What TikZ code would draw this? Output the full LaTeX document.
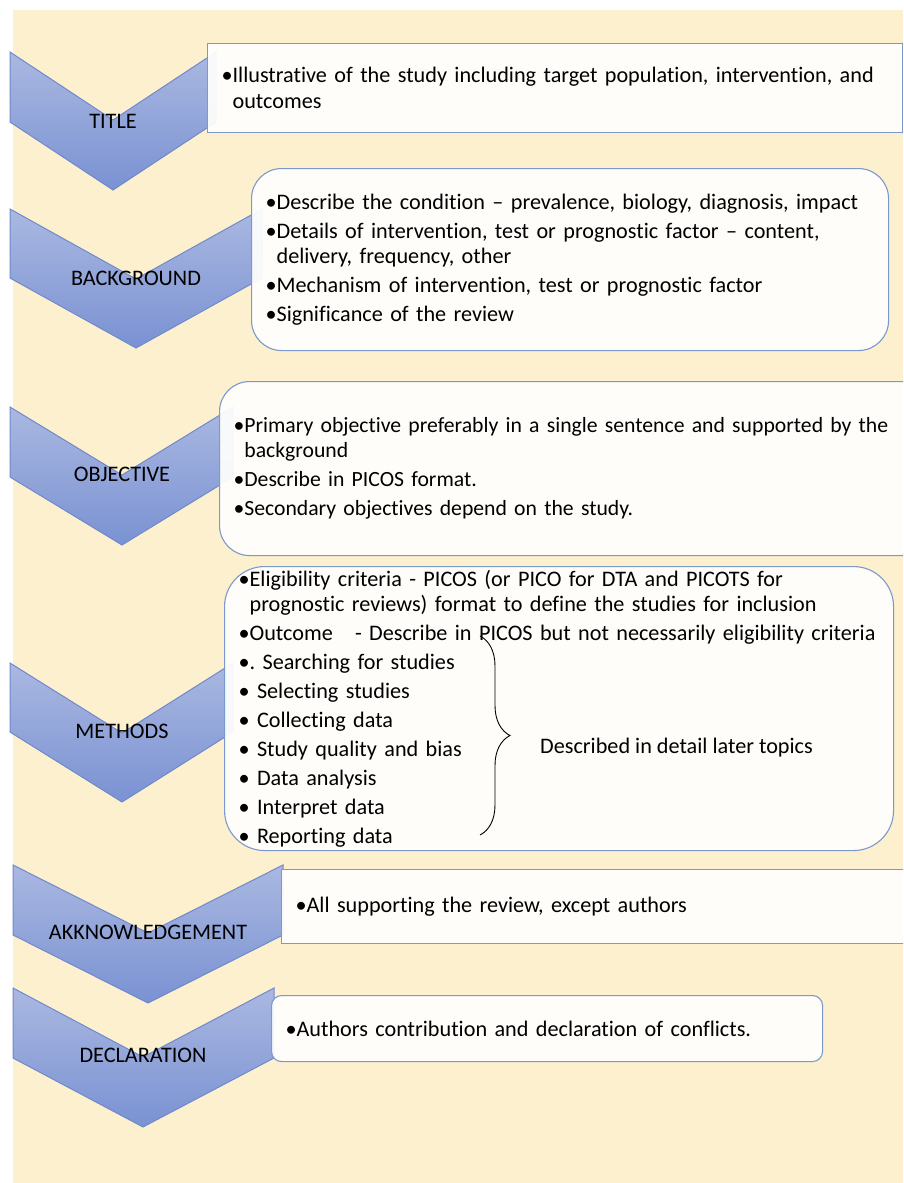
\documentclass[tikz,border=0pt]{standalone}
\usepackage{fontspec}
\setmainfont{Carlito}[Ligatures=NoCommon]
\usepackage{tikz}
\usetikzlibrary{shapes, decorations.pathreplacing}
\usepackage{xcolor}
\frenchspacing

\definecolor{cream}{RGB}{253,240,206}
\definecolor{chevtop}{RGB}{170,184,225}
\definecolor{chevbot}{RGB}{122,146,211}
\definecolor{chevline}{RGB}{112,137,204}
\definecolor{boxline}{RGB}{124,153,206}
\definecolor{boxfill}{RGB}{255,255,253}

\begin{document}
\begin{tikzpicture}[x=1pt, y=-1pt, font=\fontsize{22.2}{25.5}\selectfont]

	\tikzstyle{chev} = [draw=chevline, line width=1pt, top color=chevtop, bottom color=chevbot]
	
	\tikzstyle{chevlabel} = [anchor=base, inner sep=0pt]
	
	\tikzstyle{textbox} = [draw=boxline, line width=1.1pt, fill=boxfill, fill opacity=0.93, text opacity=1, anchor=north west, align=left, inner xsep=14pt, inner ysep=0pt]
	
	\tikzstyle{line} = [draw, line width=0.9pt, decorate, decoration={brace, amplitude=30pt}]
	
	\useasboundingbox (0,0) rectangle (903,1183);
	\clip (0,0) rectangle (903,1183);
	\fill[cream] (13,10) rectangle (903,1183);
	
	\path [chev] (10,52) -- (113,120) -- (216,52) -- (216,122) -- (113,190) -- (10,122) -- cycle;
	\path [chev] (10,209) -- (136,279) -- (262,209) -- (262,278) -- (136,348) -- (10,278) -- cycle;
	\path [chev] (10,407) -- (122,475) -- (233,407) -- (233,477) -- (122,545) -- (10,477) -- cycle;
	\path [chev] (10,663) -- (122,733) -- (233,663) -- (233,732) -- (122,802) -- (10,732) -- cycle;
	\path [chev] (13,865) -- (148,933) -- (283,865) -- (283,935) -- (148,1003) -- (13,935) -- cycle;
	\path [chev] (13,988) -- (143,1057) -- (274,988) -- (274,1058) -- (143,1127) -- (13,1058) -- cycle;
	
	\node[chevlabel] (title) at (113,128) {TITLE};
	\node[chevlabel] (background) at (136,285) {BACKGROUND};
	\node[chevlabel] (objective) at (122,481) {OBJECTIVE};
	\node[chevlabel] (methods) at (122,738) {METHODS};
	\node[chevlabel] (akknowledgement) at (148,939) {AKKNOWLEDGEMENT};
	\node[chevlabel] (declaration) at (143,1062) {DECLARATION};
	
	\node[textbox, text width=667pt, minimum height=89pt] (title text) at (207,43) {•Illustrative of the study including target population, intervention, and\\ \phantom{•}outcomes};
	
	\node[textbox, rounded corners=30pt, text width=609pt, minimum height=182pt] (background text) at (251,168) {•Describe the condition – prevalence, biology, diagnosis, impact\\[3.5pt] •Details of intervention, test or prognostic factor – content,\\ \phantom{•}delivery, frequency, other\\[3.5pt] •Mechanism of intervention, test or prognostic factor\\[3.5pt] •Significance of the review};
	
	\node[textbox, rounded corners=30pt, text width=684pt, minimum height=174pt, font=\fontsize{21.7}{25.5}\selectfont] (objective text) at (219,381) {•Primary objective preferably in a single sentence and supported by the\\ \phantom{•}background\\[3.5pt] •Describe in PICOS format.\\[3.5pt] •Secondary objectives depend on the study.};
	
	\node[textbox, rounded corners=40pt, text width=641pt, minimum height=284pt] (methods text) at (224,566) {•Eligibility criteria - PICOS (or PICO for DTA and PICOTS for\\ \phantom{•}prognostic reviews) format to define the studies for inclusion\\[3.5pt] •Outcome \ \ - Describe in PICOS but not necessarily eligibility criteria\\[3.5pt] •.\ Searching for studies\\[3.5pt] • Selecting studies\\[3.5pt] • Collecting data\\[3.5pt] • Study quality and bias\\[3.5pt] • Data analysis\\[3.5pt] • Interpret data\\[3.5pt] • Reporting data};
	
	\node[textbox, text width=601pt, minimum height=74pt] (akknowledgement text) at (281,869) {•All supporting the review, except authors};
	
	\node[textbox, rounded corners=10pt, text width=523pt, minimum height=66pt] (declaration text) at (271,995) {•Authors contribution and declaration of conflicts.};
	
	\coordinate (brace top) at (480,636);
	\coordinate (brace bottom) at (480,835);
	\path [line] (brace top) -- (brace bottom);
	\node[anchor=west, inner sep=0pt] (later topics) at (540,748) {Described in detail later topics};
	
\end{tikzpicture}
\end{document}
